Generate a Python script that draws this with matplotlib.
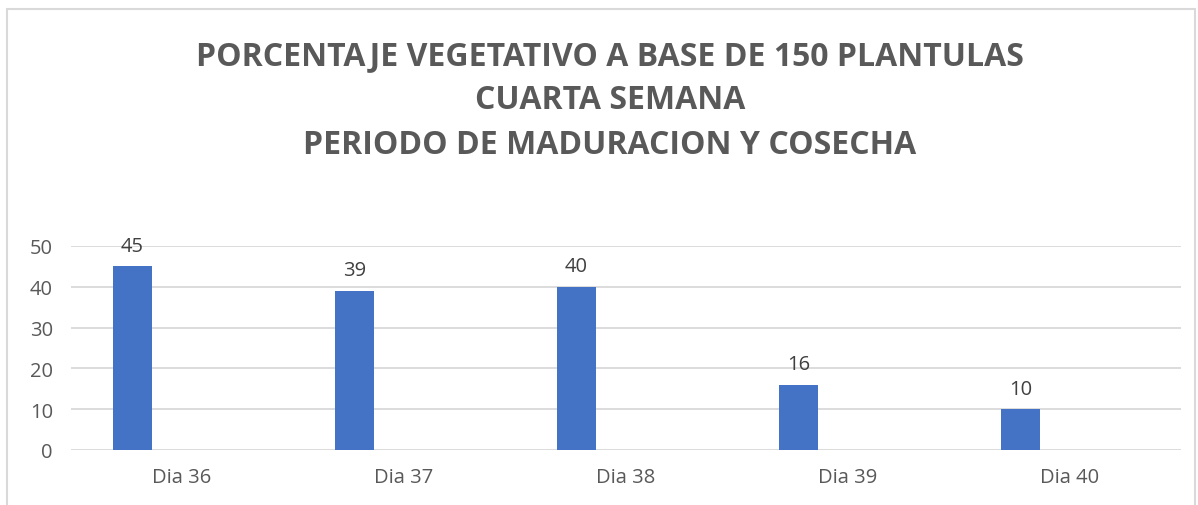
import numpy as np
import matplotlib.pyplot as plt
from matplotlib.patches import Rectangle

# data
dias = ['Dia 36', 'Dia 37', 'Dia 38', 'Dia 39', 'Dia 40']
valores = [45, 39, 40, 16, 10]
titulo = ('PORCENTAJE VEGETATIVO A BASE DE 150 PLANTULAS\n'
          'CUARTA SEMANA\n'
          'PERIODO DE MADURACION Y COSECHA')

gris = '#595959'
azul = '#4472C4'

plt.rcParams['font.family'] = ['Open Sans', 'DejaVu Sans']

fig = plt.figure(figsize=(11.98, 5.06), dpi=100)
ax = fig.add_axes([71/1198, 1 - 451/506, 1110/1198, 204/506])

x = np.arange(len(dias))
barras = ax.bar(x - 0.223, valores, width=0.176, color=azul, zorder=3)
for b, v in zip(barras, valores):
    ax.text(b.get_x() + b.get_width()/2, v + 2.6, str(v), ha='center', va='bottom',
            fontsize=14.5, color='#404040', clip_on=False)

ax.set_xlim(-0.5, len(dias) - 0.5)
ax.set_ylim(0, 50)
ax.set_yticks(range(0, 51, 10))
ax.set_xticks(x)
ax.set_xticklabels(dias)
ax.tick_params(length=0, labelsize=14.5, labelcolor=gris)
ax.tick_params(axis='x', pad=12)
ax.tick_params(axis='y', pad=13)
ax.grid(axis='y', color='#d9d9d9', linewidth=1.3, zorder=0)
for s in ax.spines.values():
    s.set_visible(False)

fig.text(610/1198, 1 - 101/506, titulo, ha='center', va='center', fontsize=23,
         fontweight='bold', color=gris, linespacing=1.47)

# chart frame
fig.patches.append(Rectangle((7/1198, -0.05), 1188/1198, 1.05 - 10/506,
                             transform=fig.transFigure, fill=False,
                             edgecolor='#d9d9d9', linewidth=1.5))

fig.savefig('out.png', dpi=100)
